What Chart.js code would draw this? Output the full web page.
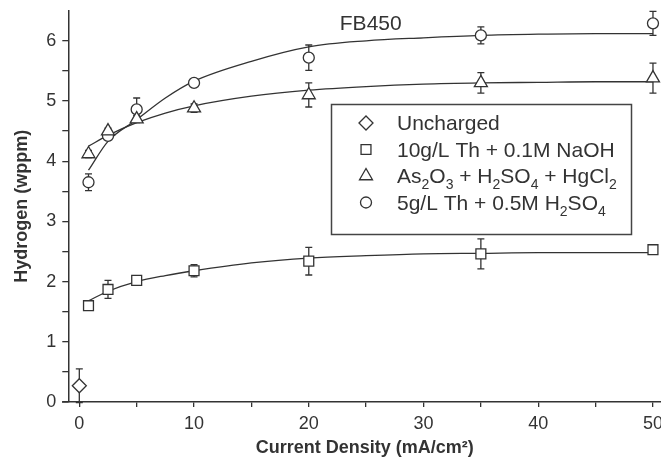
<!DOCTYPE html>
<html>
<head>
<meta charset="utf-8">
<title>FB450 hydrogen uptake</title>
<script src="https://cdn.jsdelivr.net/npm/chart.js@4.4.1/dist/chart.umd.min.js"></script>
<style>
  html, body { margin: 0; padding: 0; background: #fff; }
</style>
</head>
<body>
<canvas id="h2Chart" width="661" height="461"></canvas>
<script>
// measured points (current density in mA/cm2, hydrogen in wppm)
const currentDensity = [0.8, 2.5, 5, 10, 20, 35, 50];
const unchargedX = [0];
const unchargedY = [0.27];
const unchargedErr = [0.28];
const naohY = [1.60, 1.87, 2.02, 2.18, 2.34, 2.46, 2.53];
const naohErr = [0.07, 0.15, 0.08, 0.10, 0.23, 0.25, 0.06];
const asY = [4.12, 4.50, 4.70, 4.88, 5.10, 5.30, 5.38];
const asErr = [0.06, 0.05, 0.06, 0.07, 0.20, 0.17, 0.25];
const h2so4Y = [3.65, 4.42, 4.86, 5.30, 5.72, 6.09, 6.29];
const h2so4Err = [0.14, 0.06, 0.19, 0.04, 0.21, 0.14, 0.20];

// fitted curves
const fitX = [0.8, 2.5, 5, 7.5, 10, 15, 20, 25, 30, 35, 40, 45, 50];
const naohFit = [1.68, 1.84, 2.00, 2.10, 2.18, 2.31, 2.39, 2.43, 2.46, 2.47, 2.48, 2.48, 2.48];
const asFit = [4.25, 4.43, 4.64, 4.80, 4.92, 5.08, 5.18, 5.24, 5.28, 5.30, 5.31, 5.32, 5.32];
const h2so4Fit = [3.85, 4.33, 4.69, 5.05, 5.33, 5.66, 5.90, 6.00, 6.05, 6.09, 6.11, 6.12, 6.12];

const xTicks = [0, 5, 10, 15, 20, 25, 30, 35, 40, 45, 50];
const yTicks = [0, 0.5, 1, 1.5, 2, 2.5, 3, 3.5, 4, 4.5, 5, 5.5, 6];

// legend text pieces: [text, isSubscript]
const legendLabels = [
  [['Uncharged']],
  [['10g/L Th + 0.1M NaOH']],
  [['As'], ['2', 1], ['O'], ['3', 1], [' + H'], ['2', 1], ['SO'], ['4', 1], [' + HgCl'], ['2', 1]],
  [['5g/L Th + 0.5M H'], ['2', 1], ['SO'], ['4', 1]]
];
const legendStyles = ['rectRot', 'rect', 'triangle', 'circle'];
const plotLabel = 'FB450';

const INK = '#333';
const FONT = "'Liberation Sans', Arial, sans-serif";
const markerRadius = { rectRot: 7, rect: 7, triangle: 7.5, circle: 5.5 };

function zip(xs, ys) {
  return xs.map((x, i) => ({ x: x, y: ys[i] }));
}

function drawMarker(ctx, style, x, y, r) {
  ctx.beginPath();
  if (style === 'circle') {
    ctx.arc(x, y, r, 0, Math.PI * 2);
  } else if (style === 'rect') {
    const s = r * Math.SQRT1_2;
    ctx.rect(x - s, y - s, 2 * s, 2 * s);
  } else if (style === 'triangle') {
    const h = r * Math.sin(Math.PI / 3);
    ctx.moveTo(x, y - r);
    ctx.lineTo(x - h, y + r / 2);
    ctx.lineTo(x + h, y + r / 2);
    ctx.closePath();
  } else {
    ctx.moveTo(x - r, y);
    ctx.lineTo(x, y - r);
    ctx.lineTo(x + r, y);
    ctx.lineTo(x, y + r);
    ctx.closePath();
  }
  ctx.fill();
  ctx.stroke();
}

// let the plot run to the right edge, the "50" label is cut off in the original
const stretchRight = {
  id: 'stretchRight',
  afterLayout(chart) {
    const xs = chart.scales.x;
    chart.chartArea.right = chart.width;
    chart.chartArea.width = chart.width - chart.chartArea.left;
    xs.right = chart.width;
    xs.width = xs.right - xs.left;
    xs.configure();
  }
};

const errorBars = {
  id: 'errorBars',
  beforeDatasetDraw(chart, args) {
    const ds = chart.data.datasets[args.index];
    if (!ds.errors) return;
    const xs = chart.scales.x, ys = chart.scales.y, ctx = chart.ctx;
    ctx.save();
    ctx.strokeStyle = INK;
    ctx.lineWidth = 1.3;
    ds.data.forEach((p, i) => {
      const e = ds.errors[i];
      const px = xs.getPixelForValue(p.x);
      const top = ys.getPixelForValue(p.y + e);
      const bot = ys.getPixelForValue(p.y - e);
      ctx.beginPath();
      ctx.moveTo(px, top); ctx.lineTo(px, bot);
      ctx.moveTo(px - 3.5, top); ctx.lineTo(px + 3.5, top);
      ctx.moveTo(px - 3.5, bot); ctx.lineTo(px + 3.5, bot);
      ctx.stroke();
    });
    ctx.restore();
  }
};

const annotations = {
  id: 'annotations',
  afterDraw(chart) {
    const ctx = chart.ctx;
    const xs = chart.scales.x, ys = chart.scales.y;
    ctx.save();
    // x axis line pokes a little past the y axis, as in the original
    ctx.strokeStyle = INK;
    ctx.lineWidth = 1.5;
    ctx.beginPath();
    ctx.moveTo(62, chart.chartArea.bottom);
    ctx.lineTo(chart.chartArea.left, chart.chartArea.bottom);
    ctx.stroke();

    // sample label
    ctx.fillStyle = INK;
    ctx.font = '21px ' + FONT;
    ctx.textAlign = 'center';
    ctx.textBaseline = 'middle';
    ctx.fillText(plotLabel, xs.getPixelForValue(25.4), ys.getPixelForValue(6.28));

    // legend box
    ctx.strokeStyle = '#444';
    ctx.lineWidth = 1.5;
    ctx.fillStyle = '#fff';
    ctx.fillRect(331.5, 104.5, 300, 130);
    ctx.strokeRect(331.5, 104.5, 300, 130);

    ctx.textAlign = 'left';
    ctx.textBaseline = 'alphabetic';
    legendLabels.forEach((parts, i) => {
      const base = 130 + i * 26.5;
      ctx.fillStyle = '#fff';
      ctx.strokeStyle = INK;
      ctx.lineWidth = 1.3;
      drawMarker(ctx, legendStyles[i], 366, base - 7, markerRadius[legendStyles[i]]);
      let x = 397;
      ctx.fillStyle = INK;
      parts.forEach(([txt, sub]) => {
        ctx.font = (sub ? '14px ' : '21px ') + FONT;
        ctx.fillText(txt, x, base + (sub ? 6 : 0));
        x += ctx.measureText(txt).width;
      });
    });
    ctx.restore();
  }
};

function markerSet(label, xs, ys, errs, style) {
  return {
    label: label,
    data: zip(xs, ys),
    errors: errs,
    showLine: false,
    pointStyle: style,
    pointRadius: markerRadius[style],
    pointBackgroundColor: '#fff',
    pointBorderColor: INK,
    pointBorderWidth: 1.3,
    clip: false
  };
}

function fitSet(ys) {
  return {
    data: zip(fitX, ys),
    showLine: true,
    pointRadius: 0,
    borderColor: INK,
    borderWidth: 1.3,
    cubicInterpolationMode: 'monotone',
    clip: false
  };
}

Chart.defaults.font.family = FONT;
Chart.defaults.color = INK;

new Chart(document.getElementById('h2Chart'), {
  type: 'scatter',
  data: {
    datasets: [
      markerSet('Uncharged', unchargedX, unchargedY, unchargedErr, 'rectRot'),
      markerSet('10g/L Th + 0.1M NaOH', currentDensity, naohY, naohErr, 'rect'),
      markerSet('As2O3 + H2SO4 + HgCl2', currentDensity, asY, asErr, 'triangle'),
      markerSet('5g/L Th + 0.5M H2SO4', currentDensity, h2so4Y, h2so4Err, 'circle'),
      fitSet(naohFit),
      fitSet(asFit),
      fitSet(h2so4Fit)
    ]
  },
  options: {
    responsive: false,
    animation: false,
    events: [],
    layout: { padding: { top: 10.7, right: 0, left: 0, bottom: 0 } },
    plugins: { legend: { display: false }, tooltip: { enabled: false } },
    scales: {
      x: {
        type: 'linear',
        min: -0.96,
        max: 50.7,
        afterBuildTicks: (scale) => { scale.ticks = xTicks.map(v => ({ value: v })); },
        afterFit: (scale) => { scale.height = 59; },
        ticks: {
          autoSkip: false,
          maxRotation: 0,
          padding: 6,
          font: { size: 18 },
          color: INK,
          callback: (v) => (v % 10 === 0 ? String(v) : '')
        },
        grid: { drawOnChartArea: false, drawTicks: true, tickLength: 5, color: INK, lineWidth: 1.3 },
        border: { display: true, color: INK, width: 1.5 },
        title: {
          display: true,
          text: 'Current Density (mA/cm²)',
          font: { size: 18, weight: 'bold' },
          color: INK,
          padding: { top: 0, bottom: 2 }
        }
      },
      y: {
        type: 'linear',
        min: 0,
        max: 6.5,
        afterBuildTicks: (scale) => { scale.ticks = yTicks.map(v => ({ value: v })); },
        afterFit: (scale) => { scale.width = 68.3; scale.paddingTop = 0; scale.paddingBottom = 0; },
        ticks: {
          autoSkip: false,
          padding: 6,
          font: { size: 18 },
          color: INK,
          callback: (v) => (Number.isInteger(v) ? String(v) : '')
        },
        grid: { drawOnChartArea: false, drawTicks: true, tickLength: 6, color: INK, lineWidth: 1.3 },
        border: { display: true, color: INK, width: 1.5 },
        title: {
          display: true,
          text: 'Hydrogen (wppm)',
          font: { size: 18, weight: 'bold' },
          color: INK,
          padding: { top: 11, bottom: 0 }
        }
      }
    }
  },
  plugins: [stretchRight, errorBars, annotations]
});
</script>
</body>
</html>
